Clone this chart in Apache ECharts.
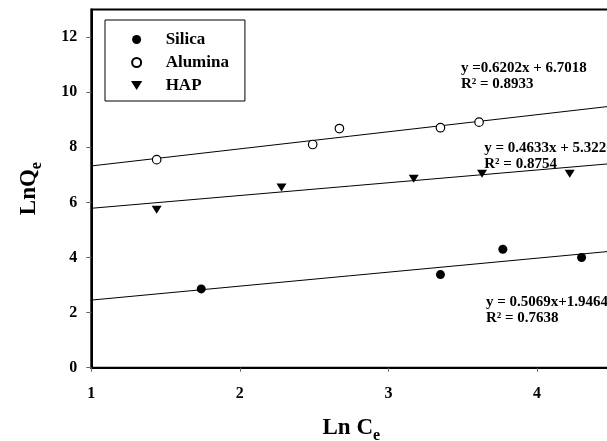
<!DOCTYPE html>
<html>
<head>
<meta charset="utf-8">
<script src="https://cdn.jsdelivr.net/npm/echarts@6/dist/echarts.min.js"></script>
<style>
  html, body { margin: 0; padding: 0; background: #fff; }
  #chart { width: 607px; height: 441px; }
</style>
</head>
<body>
<div id="chart"></div>
<script>
// Freundlich isotherm, ln Qe vs ln Ce, for three adsorbents
const seriesNames = ['Silica', 'Alumina', 'HAP'];

const silicaX = [1.74, 3.35, 3.77, 4.30];
const silicaY = [2.86, 3.38, 4.30, 4.00];

const aluminaX = [1.44, 2.49, 2.67, 3.35, 3.61];
const aluminaY = [7.55, 8.10, 8.68, 8.71, 8.91];

const hapX = [1.44, 2.28, 3.17, 3.63, 4.22];
const hapY = [5.73, 6.54, 6.86, 7.04, 7.04];

// linear fits: Silica, Alumina, HAP
const fitSlopes = [0.5069, 0.6202, 0.4633];
const fitIntercepts = [1.9464, 6.7018, 5.3220];
const fitLabels = [
  ['y = 0.5069x+1.9464', 'R\u00b2 = 0.7638'],
  ['y =0.6202x + 6.7018', 'R\u00b2 = 0.8933'],
  ['y = 0.4633x + 5.3220', 'R\u00b2 = 0.8754']
];

const xTicks = [1, 2, 3, 4];
const yTicks = [0, 2, 4, 6, 8, 10, 12];
const xRange = [1, 4.5];
const yRange = [0, 13];

const FONT = '"Liberation Serif", "Times New Roman", serif';

function pairs(xs, ys) { return xs.map((x, i) => [x, ys[i]]); }
function fitLine(k) {
  return xRange.map(x => [x, fitSlopes[k] * x + fitIntercepts[k]]);
}

// where each fit's equation text sits, in data units
const labelAnchors = [[3.656, 2.09], [3.488, 10.6], [3.645, 7.69]];

const chart = echarts.init(document.getElementById('chart'), null, { renderer: 'canvas' });

const pointSeries = [
  { name: seriesNames[0], type: 'scatter', data: pairs(silicaX, silicaY),
    symbol: 'circle', symbolSize: 9,
    itemStyle: { color: '#000', opacity: 1 }, z: 5 },
  { name: seriesNames[1], type: 'scatter', data: pairs(aluminaX, aluminaY),
    symbol: 'circle', symbolSize: 8.5,
    itemStyle: { color: '#fff', borderColor: '#000', borderWidth: 1.2, opacity: 1 }, z: 5 },
  { name: seriesNames[2], type: 'scatter', data: pairs(hapX, hapY),
    symbol: 'path://M0,0 L10,0 L5,8 Z', symbolSize: [10, 8],
    itemStyle: { color: '#000', opacity: 1 }, z: 5 }
];

const fitSeries = [0, 1, 2].map(k => ({
  type: 'line',
  data: fitLine(k),
  symbol: 'none',
  silent: true,
  lineStyle: { color: '#000', width: 1 },
  z: 3,
  markPoint: {
    symbol: 'rect', symbolSize: 0, silent: true,
    data: [{ coord: labelAnchors[k] }],
    label: {
      show: true,
      position: 'right',
      distance: 0,
      formatter: fitLabels[k].join('\n'),
      color: '#000',
      fontFamily: FONT,
      fontWeight: 'bold',
      fontSize: 15,
      lineHeight: 16,
      align: 'left'
    }
  }
}));

const titleRich = {
  m: { fontFamily: FONT, fontWeight: 'bold', fontSize: 23, lineHeight: 32, verticalAlign: 'middle', color: '#000' },
  s: { fontFamily: FONT, fontWeight: 'bold', fontSize: 16, lineHeight: 16, verticalAlign: 'bottom', color: '#000' }
};

chart.setOption({
  animation: false,
  backgroundColor: '#fff',
  grid: {
    left: 91.3, top: 9.5, bottom: 73.3, right: -4.3,
    outerBoundsMode: 'none',
    show: true, borderColor: '#000', borderWidth: 2
  },
  legend: {
    data: seriesNames,
    orient: 'vertical',
    left: 105, top: 20,
    padding: [11, 16, 7, 26],
    itemWidth: 48, itemHeight: 9, itemGap: 6,
    borderColor: '#000', borderWidth: 1,
    backgroundColor: '#fff',
    textStyle: { fontFamily: FONT, fontWeight: 'bold', fontSize: 17, color: '#000' }
  },
  xAxis: {
    type: 'value', min: xRange[0], max: xRange[1], interval: 1,
    name: '{m|Ln C}{s|e}',
    nameLocation: 'middle', nameGap: 44,
    nameTextStyle: { fontFamily: FONT, fontWeight: 'bold', color: '#000', rich: titleRich },
    axisLine: { onZero: false, lineStyle: { color: '#000', width: 2 } },
    axisTick: { length: 4, lineStyle: { color: '#666', width: 1 } },
    axisLabel: {
      margin: 18, showMaxLabel: false,
      fontFamily: FONT, fontWeight: 'bold', fontSize: 16, color: '#000',
      formatter: v => (xTicks.includes(v) ? String(v) : '')
    },
    splitLine: { show: false }
  },
  yAxis: {
    type: 'value', min: yRange[0], max: yRange[1], interval: 2,
    name: '{m|LnQ}{s|e}',
    nameLocation: 'middle', nameGap: 46, nameRotate: 90,
    nameTextStyle: { fontFamily: FONT, fontWeight: 'bold', color: '#000', rich: titleRich },
    axisLine: { show: true, onZero: false, lineStyle: { color: '#000', width: 2 } },
    axisTick: { show: true, length: 5, lineStyle: { color: '#666', width: 1 } },
    axisLabel: {
      margin: 14, showMaxLabel: false,
      fontFamily: FONT, fontWeight: 'bold', fontSize: 16, color: '#000',
      formatter: v => (yTicks.includes(v) ? String(v) : '')
    },
    splitLine: { show: false }
  },
  series: [...fitSeries, ...pointSeries]
});
</script>
</body>
</html>
